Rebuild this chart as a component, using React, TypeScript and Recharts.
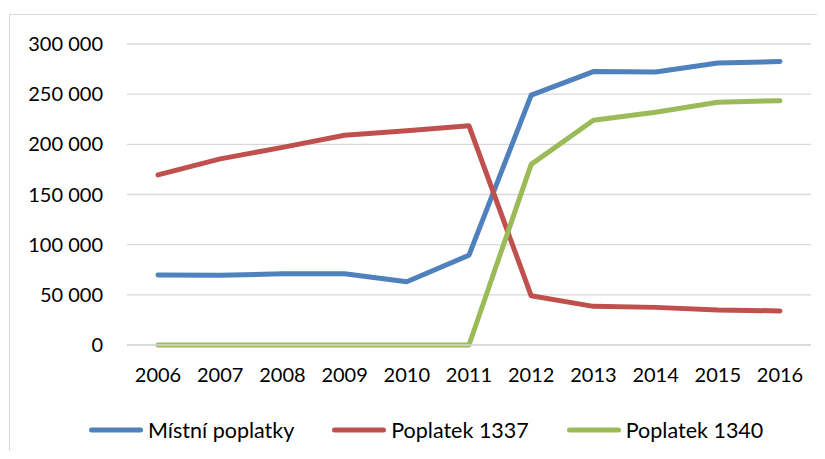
import { CartesianGrid, Line, LineChart, XAxis, YAxis } from "recharts";

// ---------------------------------------------------------------------------
// Data
// ---------------------------------------------------------------------------

const YEARS = ["2006", "2007", "2008", "2009", "2010", "2011", "2012", "2013", "2014", "2015", "2016"];
const MISTNI = [69800, 69500, 71000, 71000, 63000, 89500, 249000, 272500, 272000, 281000, 282500];
const P1337 = [169500, 185500, 197000, 209000, 213500, 218500, 49000, 38500, 37500, 35000, 34000];
const P1340 = [0, 0, 0, 0, 0, 0, 180000, 224000, 232000, 242000, 243500];
const Y_TICKS = [0, 50000, 100000, 150000, 200000, 250000, 300000];

const SERIES = [
  { key: "mistni", name: "Místní poplatky", color: "#4F81BD" },
  { key: "p1337", name: "Poplatek 1337", color: "#C0504D" },
  { key: "p1340", name: "Poplatek 1340", color: "#9BBB59" },
];

const data = YEARS.map((year, i) => ({
  year,
  mistni: MISTNI[i],
  p1337: P1337[i],
  p1340: P1340[i],
}));

const FONT = "Lato, 'Open Sans', sans-serif";
const GRID = "#D9D9D9";

const fmt = (v: number) => (v === 0 ? "0" : `${Math.round(v / 1000)} 000`);

// legend drawn outside the chart so it doesn't shrink the plot area
function ChartLegend() {
  return (
    <div
      style={{
        position: "absolute",
        left: 89,
        top: 417,
        height: 26,
        display: "flex",
        alignItems: "center",
        fontFamily: FONT,
        fontSize: 21.5,
        color: "#000",
        whiteSpace: "nowrap",
      }}
    >
      {SERIES.map((s, i) => (
        <div key={s.key} style={{ display: "flex", alignItems: "center", marginRight: i < 2 ? 38 : 0 }}>
          <svg width={54} height={6} style={{ marginRight: 5 }}>
            <line x1={2.5} y1={3} x2={51.5} y2={3} stroke={s.color} strokeWidth={5} strokeLinecap="round" />
          </svg>
          <span>{s.name}</span>
        </div>
      ))}
    </div>
  );
}

export default function App() {
  return (
    <div style={{ position: "relative", margin: -8, width: 825, height: 459, overflow: "hidden", background: "#fff" }}>
      <div
        style={{
          position: "absolute",
          left: 9,
          top: 14,
          width: 840,
          height: 480,
          border: `1px solid ${GRID}`,
        }}
      />
      <div style={{ position: "absolute", left: 0, top: 0 }}>
        <LineChart width={825} height={459} data={data} margin={{ top: 44, right: 14, bottom: 0, left: 0 }}>
          <CartesianGrid vertical={false} stroke={GRID} strokeWidth={1.3} />
          <XAxis
            dataKey="year"
            height={114}
            padding={{ left: 31, right: 31 }}
            axisLine={{ stroke: GRID, strokeWidth: 1.3 }}
            tickLine={false}
            tickSize={0}
            tickMargin={23}
            interval={0}
            tick={{ fontSize: 20, fill: "#000", fontFamily: FONT }}
          />
          <YAxis
            width={127}
            domain={[0, 300000]}
            ticks={Y_TICKS}
            tickFormatter={fmt}
            axisLine={false}
            tickLine={false}
            tickSize={0}
            tickMargin={24}
            tick={{ fontSize: 20, fill: "#000", fontFamily: FONT }}
          />
          {SERIES.map((s) => (
            <Line
              key={s.key}
              type="linear"
              dataKey={s.key}
              name={s.name}
              stroke={s.color}
              strokeWidth={5}
              strokeLinecap="round"
              strokeLinejoin="round"
              dot={false}
              activeDot={false}
              isAnimationActive={false}
            />
          ))}
        </LineChart>
      </div>
      <ChartLegend />
    </div>
  );
}
